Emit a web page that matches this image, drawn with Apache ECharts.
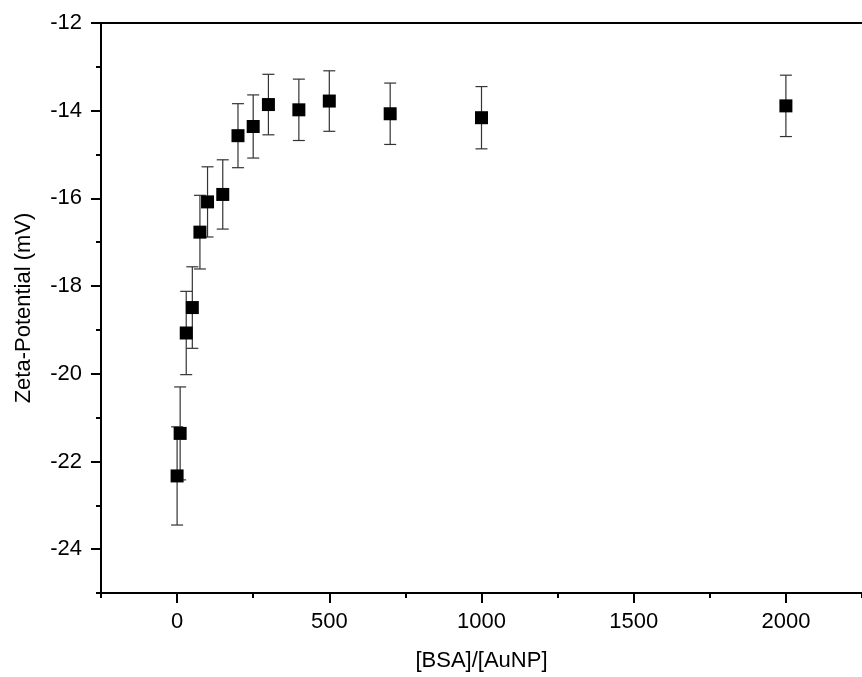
<!DOCTYPE html>
<html>
<head>
<meta charset="utf-8">
<script src="https://cdn.jsdelivr.net/npm/echarts@6/dist/echarts.min.js"></script>
<style>
  html, body { margin: 0; padding: 0; background: #fff; }
  #chart { width: 862px; height: 677px; }
</style>
</head>
<body>
<div id="chart"></div>
<script>
// BSA-to-AuNP molar ratio
const ratio = [0, 10, 30, 50, 75, 100, 150, 200, 250, 300, 400, 500, 700, 1000, 2000];
// Zeta potential (mV)
const zeta = [-22.33, -21.36, -19.07, -18.49, -16.77, -16.08, -15.91, -14.57, -14.36, -13.86, -13.98, -13.78, -14.07, -14.16, -13.89];
// Standard deviation (mV)
const zetaErr = [1.12, 1.06, 0.95, 0.93, 0.84, 0.80, 0.79, 0.73, 0.72, 0.69, 0.70, 0.69, 0.70, 0.71, 0.70];

const xMajor = [0, 500, 1000, 1500, 2000];
const xMinor = [-250, 250, 750, 1250, 1750, 2250];
const yMajor = [-24, -22, -20, -18, -16, -14, -12];
const yMinor = [-25, -23, -21, -19, -17, -15, -13];

const FONT = '"Liberation Sans", Arial, sans-serif';
const FS = 22;

const points = ratio.map((x, i) => [x, zeta[i]]);
const bars = ratio.map((x, i) => [x, zeta[i] - zetaErr[i], zeta[i] + zetaErr[i]]);

const chart = echarts.init(document.getElementById('chart'), null, { renderer: 'canvas' });

const axisLineStyle = { color: '#000', width: 2 };
const plain = v => String(v);

chart.setOption({
  backgroundColor: '#fff',
  animation: false,
  grid: { left: 101, top: 23, width: 773, height: 571 },
  xAxis: [
    {
      type: 'value', min: -250, max: 2250, position: 'bottom',
      name: '[BSA]/[AuNP]', nameLocation: 'middle', nameGap: 57,
      nameTextStyle: { fontFamily: FONT, fontSize: FS, color: '#000' },
      axisLine: { show: true, onZero: false, lineStyle: axisLineStyle },
      axisTick: { show: true, length: 10, customValues: xMajor, lineStyle: axisLineStyle },
      axisLabel: { show: true, customValues: xMajor, formatter: plain, margin: 18, fontFamily: FONT, fontSize: FS, color: '#000' },
      splitLine: { show: false }
    },
    {
      type: 'value', min: -250, max: 2250, position: 'bottom',
      axisLine: { show: false, onZero: false },
      axisTick: { show: true, length: 5, customValues: xMinor, lineStyle: axisLineStyle },
      axisLabel: { show: false },
      splitLine: { show: false }
    },
    {
      type: 'value', min: -250, max: 2250, position: 'top',
      axisLine: { show: true, onZero: false, lineStyle: axisLineStyle },
      axisTick: { show: false },
      axisLabel: { show: false },
      splitLine: { show: false }
    }
  ],
  yAxis: [
    {
      type: 'value', min: -25, max: -12, position: 'left',
      name: 'Zeta-Potential (mV)', nameLocation: 'middle', nameGap: 66, nameRotate: 90,
      nameTextStyle: { fontFamily: FONT, fontSize: FS, color: '#000' },
      axisLine: { show: true, onZero: false, lineStyle: axisLineStyle },
      axisTick: { show: true, length: 10, customValues: yMajor, lineStyle: axisLineStyle },
      axisLabel: { show: true, customValues: yMajor, formatter: plain, margin: 19, fontFamily: FONT, fontSize: FS, color: '#000' },
      splitLine: { show: false }
    },
    {
      type: 'value', min: -25, max: -12, position: 'left',
      axisLine: { show: false, onZero: false },
      axisTick: { show: true, length: 5, customValues: yMinor, lineStyle: axisLineStyle },
      axisLabel: { show: false },
      splitLine: { show: false }
    }
  ],
  series: [
    {
      type: 'custom',
      xAxisIndex: 0, yAxisIndex: 0,
      data: bars,
      encode: { x: 0, y: [1, 2] },
      renderItem: function (params, api) {
        const x = api.value(0);
        const lo = api.coord([x, api.value(1)]);
        const hi = api.coord([x, api.value(2)]);
        const half = 6;
        const style = { stroke: '#333', lineWidth: 1.2 };
        return {
          type: 'group',
          children: [
            { type: 'line', shape: { x1: lo[0], y1: lo[1], x2: hi[0], y2: hi[1] }, style: style },
            { type: 'line', shape: { x1: lo[0] - half, y1: lo[1], x2: lo[0] + half, y2: lo[1] }, style: style },
            { type: 'line', shape: { x1: hi[0] - half, y1: hi[1], x2: hi[0] + half, y2: hi[1] }, style: style }
          ]
        };
      },
      z: 2
    },
    {
      type: 'scatter',
      xAxisIndex: 0, yAxisIndex: 0,
      data: points,
      symbol: 'rect',
      symbolSize: 13,
      itemStyle: { color: '#000', opacity: 1 },
      z: 3
    }
  ]
});
</script>
</body>
</html>
